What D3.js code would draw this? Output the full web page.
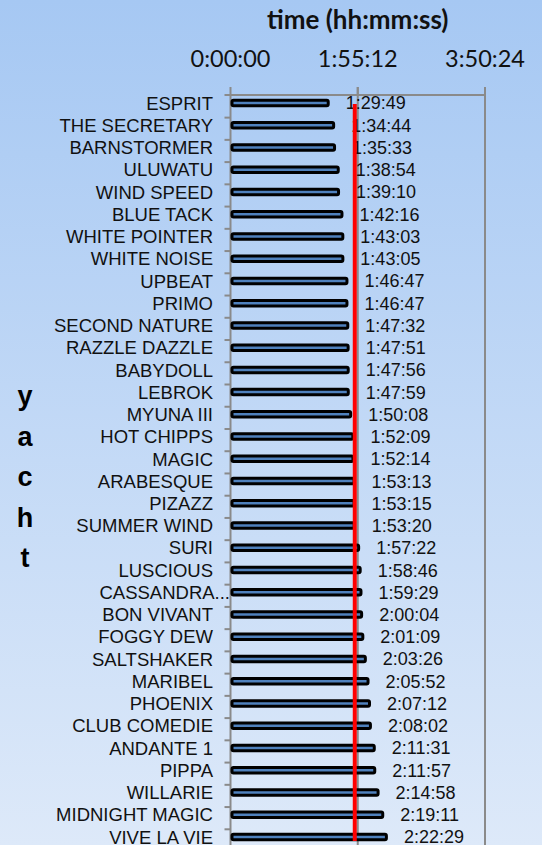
<!DOCTYPE html>
<html>
<head>
<meta charset="utf-8">
<script src="https://cdn.jsdelivr.net/npm/d3@7"></script>
<style>
  html, body { margin: 0; padding: 0; }
  body { width: 542px; height: 845px; overflow: hidden; }
  svg { display: block; }
</style>
</head>
<body>
<div id="chart"></div>
<script>
// yacht finishing times
const yachts = ["ESPRIT", "THE SECRETARY", "BARNSTORMER", "ULUWATU", "WIND SPEED", "BLUE TACK",
  "WHITE POINTER", "WHITE NOISE", "UPBEAT", "PRIMO", "SECOND NATURE", "RAZZLE DAZZLE", "BABYDOLL",
  "LEBROK", "MYUNA III", "HOT CHIPPS", "MAGIC", "ARABESQUE", "PIZAZZ", "SUMMER WIND", "SURI",
  "LUSCIOUS", "CASSANDRA...", "BON VIVANT", "FOGGY DEW", "SALTSHAKER", "MARIBEL", "PHOENIX",
  "CLUB COMEDIE", "ANDANTE 1", "PIPPA", "WILLARIE", "MIDNIGHT MAGIC", "VIVE LA VIE"];
const times = ["1:29:49", "1:34:44", "1:35:33", "1:38:54", "1:39:10", "1:42:16", "1:43:03", "1:43:05",
  "1:46:47", "1:46:47", "1:47:32", "1:47:51", "1:47:56", "1:47:59", "1:50:08", "1:52:09", "1:52:14",
  "1:53:13", "1:53:15", "1:53:20", "1:57:22", "1:58:46", "1:59:29", "2:00:04", "2:01:09", "2:03:26",
  "2:05:52", "2:07:12", "2:08:02", "2:11:31", "2:11:57", "2:14:58", "2:19:11", "2:22:29"];
const xTicks = ["0:00:00", "1:55:12", "3:50:24"];
const refTime = "1:52:30";   // red reference line
const axisTitle = "time (hh:mm:ss)";
const yTitle = ["y", "a", "c", "h", "t"];

const toSec = s => s.split(":").reduce((a, v) => a * 60 + +v, 0);
const data = yachts.map((name, i) => ({ name, t: times[i], sec: toSec(times[i]) }));

const W = 542, H = 845;
const svg = d3.select("#chart").append("svg").attr("width", W).attr("height", H);

// background gradient
const grad = svg.append("defs").append("linearGradient").attr("id", "bg")
  .attr("x1", 0).attr("y1", 0).attr("x2", 0).attr("y2", 1);
grad.append("stop").attr("offset", "0%").attr("stop-color", "#a6c8f3");
grad.append("stop").attr("offset", "100%").attr("stop-color", "#dde9f9");
svg.append("rect").attr("width", W).attr("height", H).attr("fill", "url(#bg)");

const x = d3.scaleLinear().domain([0, toSec(xTicks[2])]).range([230.5, 485]);
const step = 22.24;
const y = d3.scaleBand().domain(yachts).range([103 - step / 2, 103 - step / 2 + yachts.length * step]).padding(0);
const yc = d => y(d) + y.bandwidth() / 2;
const axisY = 95, grey = "#8a8a8a";

// vertical gridlines
svg.append("g").selectAll("line").data(xTicks.slice(1)).join("line")
  .attr("x1", d => x(toSec(d))).attr("x2", d => x(toSec(d)))
  .attr("y1", axisY - 8).attr("y2", H)
  .attr("stroke", grey).attr("stroke-width", 2);

// top axis line + ticks
svg.append("line").attr("x1", x(0) - 6).attr("x2", x.range()[1] + 1)
  .attr("y1", axisY).attr("y2", axisY).attr("stroke", grey).attr("stroke-width", 2);
svg.append("g").selectAll("line").data(xTicks).join("line")
  .attr("x1", d => x(toSec(d))).attr("x2", d => x(toSec(d)))
  .attr("y1", axisY - 8).attr("y2", axisY).attr("stroke", grey).attr("stroke-width", 2);
svg.append("g").selectAll("text").data(xTicks).join("text")
  .attr("x", d => x(toSec(d))).attr("y", 67).attr("text-anchor", "middle")
  .attr("font-family", "Lato, 'Open Sans', sans-serif").attr("font-size", 23.5).attr("fill", "#111")
  .text(d => d);
svg.append("text").attr("x", x(toSec(xTicks[1]))).attr("y", 29).attr("text-anchor", "middle")
  .attr("font-family", "Lato, 'Open Sans', sans-serif").attr("font-weight", "bold").attr("font-size", 26)
  .attr("fill", "#111").text(axisTitle);

// y axis line + category boundary ticks
svg.append("line").attr("x1", x(0)).attr("x2", x(0)).attr("y1", axisY).attr("y2", H)
  .attr("stroke", grey).attr("stroke-width", 2);
svg.append("g").selectAll("line").data(yachts).join("line")
  .attr("x1", x(0) - 6).attr("x2", x(0))
  .attr("y1", d => y(d) + y.bandwidth() + 3.5).attr("y2", d => y(d) + y.bandwidth() + 3.5)
  .attr("stroke", grey).attr("stroke-width", 2);

// bars
svg.append("g").selectAll("rect").data(data).join("rect")
  .attr("x", x(0) + 1.5).attr("y", d => yc(d.name) - 2.75)
  .attr("width", d => x(d.sec) - x(0) - 3).attr("height", 5.5).attr("rx", 1.5)
  .attr("fill", "#4f81bd").attr("stroke", "#000").attr("stroke-width", 3);

// category labels
svg.append("g").selectAll("text").data(data).join("text")
  .attr("x", d => d.name.endsWith("...") ? 230 : 213).attr("y", d => yc(d.name)).attr("dy", "0.36em")
  .attr("text-anchor", "end").attr("font-family", "'Liberation Sans', Arial, sans-serif")
  .attr("font-size", 18.5).attr("fill", "#111").text(d => d.name);

// value labels
svg.append("g").selectAll("text").data(data).join("text")
  .attr("x", d => x(d.sec) + 16).attr("y", d => yc(d.name)).attr("dy", "0.36em")
  .attr("font-family", "'Liberation Sans', Arial, sans-serif")
  .attr("font-size", 18).attr("fill", "#111").text(d => d.t);

// red reference line
svg.append("line").attr("x1", x(toSec(refTime))).attr("x2", x(toSec(refTime)))
  .attr("y1", yc(yachts[0]) + 1).attr("y2", yc(yachts[yachts.length - 1]) + 4)
  .attr("stroke", "#ff0000").attr("stroke-width", 4);

// vertical y title
svg.append("g").selectAll("text").data(yTitle).join("text")
  .attr("x", 25).attr("y", (d, i) => 405 + i * 40.5).attr("text-anchor", "middle")
  .attr("font-family", "'Liberation Sans', Arial, sans-serif").attr("font-weight", "bold")
  .attr("font-size", 27).attr("fill", "#000").text(d => d);
</script>
</body>
</html>
